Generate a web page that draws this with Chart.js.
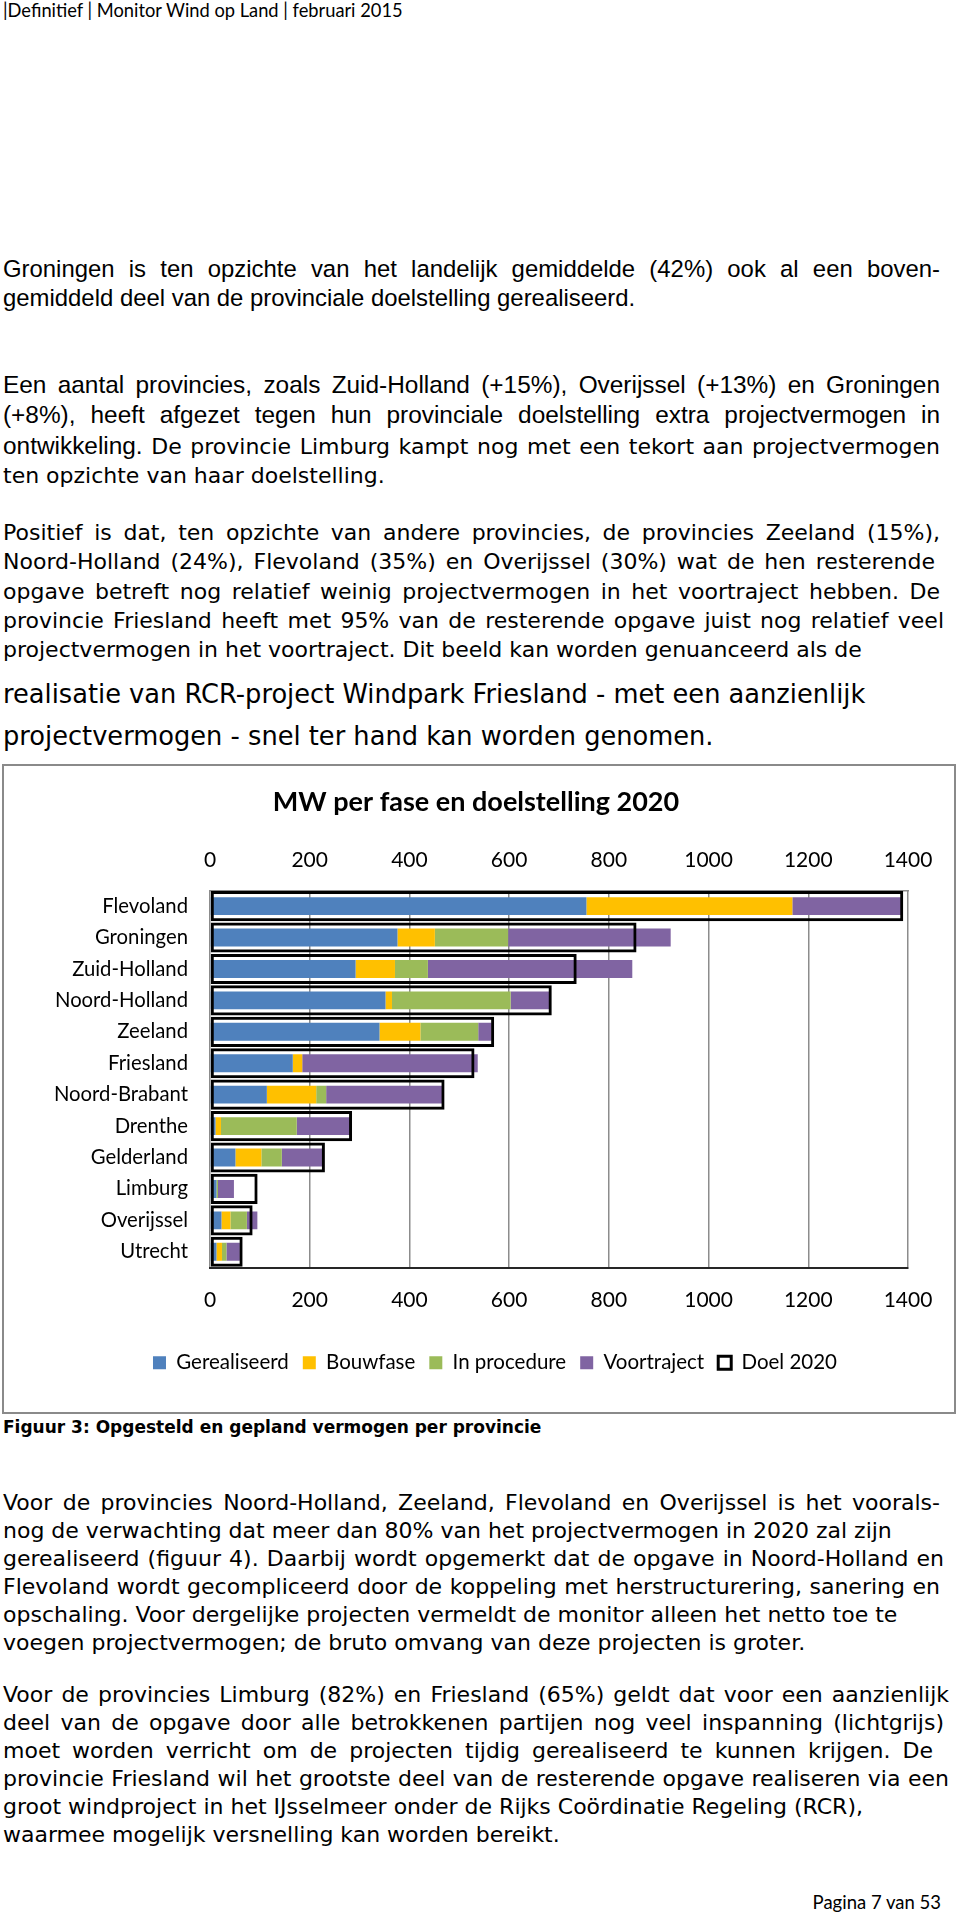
<!DOCTYPE html>
<html>
<head>
<meta charset="utf-8">
<script src="https://cdn.jsdelivr.net/npm/chart.js@4.4.1/dist/chart.umd.min.js"></script>
<style>
  body { margin: 0; width: 960px; height: 1915px; position: relative; background: #fff; color: #000; overflow: hidden; }
  .p { position: absolute; left: 3px; font-family: "DejaVu Sans", Verdana, sans-serif; font-size: 22px; line-height: 29.3px; }
  .p2 { line-height: 28px; }
  .ln { display: block; width: max-content; white-space: nowrap; }
  .ar { font-family: "Liberation Sans", Arial, sans-serif; font-size: 24.4px; }
  .big { font-size: 25.7px; line-height: 30px; }
  .cap { position: absolute; left: 3px; top: 1417px; font-family: "DejaVu Sans", Verdana, sans-serif; font-weight: bold; font-size: 17px; line-height: 20px; white-space: nowrap; }
  .head { position: absolute; left: 3px; top: 0; font-family: Lato, sans-serif; font-size: 18.3px; line-height: 20px; white-space: nowrap; }
  .foot { position: absolute; right: 19px; top: 1892px; font-family: Lato, sans-serif; font-size: 18.5px; line-height: 20px; white-space: nowrap; }
  #box { position: absolute; left: 2px; top: 764px; width: 954px; height: 650px; border: 2px solid #8a8a8a; box-sizing: border-box; }
  #box canvas { position: absolute; left: 0; top: 0; }
</style>
</head>
<body>
<div class="head">|Definitief | Monitor Wind op Land | februari 2015</div>

<div class="p ar" style="top:254px;line-height:29.3px;font-size:23.9px">
<div class="ln" data-w="937">Groningen is ten opzichte van het landelijk gemiddelde (42%) ook al een boven-</div>
<div class="ln">gemiddeld deel van de provinciale doelstelling gerealiseerd.</div>
</div>

<div class="p" style="top:370px">
<div class="ln" data-w="937"><span class="ar">Een aantal provincies, zoals Zuid-Holland (+15%), Overijssel (+13%) en Groningen</span></div>
<div class="ln" data-w="937"><span class="ar">(+8%), heeft afgezet tegen hun provinciale doelstelling extra projectvermogen in</span></div>
<div class="ln" data-w="937"><span class="ar">ontwikkeling.</span> De provincie Limburg kampt nog met een tekort aan projectvermogen</div>
<div class="ln">ten opzichte van haar doelstelling.</div>
</div>

<div class="p" style="top:518px">
<div class="ln" data-w="937">Positief is dat, ten opzichte van andere provincies, de provincies Zeeland (15%),</div>
<div class="ln" data-w="932">Noord-Holland (24%), Flevoland (35%) en Overijssel (30%) wat de hen resterende</div>
<div class="ln" data-w="937">opgave betreft nog relatief weinig projectvermogen in het voortraject hebben. De</div>
<div class="ln" data-w="941">provincie Friesland heeft met 95% van de resterende opgave juist nog relatief veel</div>
<div class="ln">projectvermogen in het voortraject. Dit beeld kan worden genuanceerd als de</div>
</div>
<div class="p big" style="top:679px"><div class="ln">realisatie van RCR-project Windpark Friesland - met een aanzienlijk</div></div>
<div class="p big" style="top:721px"><div class="ln">projectvermogen - snel ter hand kan worden genomen.</div></div>

<div id="box"><canvas id="chart" width="950" height="646"></canvas></div>

<div class="cap">Figuur 3: Opgesteld en gepland vermogen per provincie</div>

<div class="p p2" style="top:1489px">
<div class="ln" data-w="937">Voor de provincies Noord-Holland, Zeeland, Flevoland en Overijssel is het voorals-</div>
<div class="ln">nog de verwachting dat meer dan 80% van het projectvermogen in 2020 zal zijn</div>
<div class="ln" data-w="941">gerealiseerd (figuur 4). Daarbij wordt opgemerkt dat de opgave in Noord-Holland en</div>
<div class="ln" data-w="937">Flevoland wordt gecompliceerd door de koppeling met herstructurering, sanering en</div>
<div class="ln">opschaling. Voor dergelijke projecten vermeldt de monitor alleen het netto toe te</div>
<div class="ln">voegen projectvermogen; de bruto omvang van deze projecten is groter.</div>
</div>

<div class="p p2" style="top:1681px">
<div class="ln" data-w="946">Voor de provincies Limburg (82%) en Friesland (65%) geldt dat voor een aanzienlijk</div>
<div class="ln" data-w="941">deel van de opgave door alle betrokkenen partijen nog veel inspanning (lichtgrijs)</div>
<div class="ln" data-w="930">moet worden verricht om de projecten tijdig gerealiseerd te kunnen krijgen. De</div>
<div class="ln" data-w="946">provincie Friesland wil het grootste deel van de resterende opgave realiseren via een</div>
<div class="ln">groot windproject in het IJsselmeer onder de Rijks Co&ouml;rdinatie Regeling (RCR),</div>
<div class="ln">waarmee mogelijk versnelling kan worden bereikt.</div>
</div>

<div class="foot">Pagina 7 van 53</div>

<script>
// MW per provincie
var provincies = ['Flevoland', 'Groningen', 'Zuid-Holland', 'Noord-Holland', 'Zeeland', 'Friesland',
  'Noord-Brabant', 'Drenthe', 'Gelderland', 'Limburg', 'Overijssel', 'Utrecht'];
var gerealiseerd = [755, 376, 292, 352, 340, 166, 114, 11, 51, 13, 23, 13];
var bouwfase     = [413, 75, 79, 13, 82, 19, 99, 11, 52, 0, 18, 11];
var inProcedure  = [0, 147, 66, 238, 116, 0, 20, 152, 41, 3, 33, 9];
var voortraject  = [219, 326, 410, 79, 27, 352, 233, 109, 82, 32, 21, 27];
var doel2020     = [1390.5, 855.5, 735.5, 685.5, 570, 530.5, 470.5, 285, 230.5, 95.5, 85.5, 65.5];
var ticksMW      = [0, 200, 400, 600, 800, 1000, 1200, 1400];

// uitgevulde regels: spaties oprekken tot de regelbreedte
document.querySelectorAll('[data-w]').forEach(function (el) {
  var natural = el.getBoundingClientRect().width;
  var spaces = (el.textContent.match(/ /g) || []).length;
  if (spaces) el.style.wordSpacing = ((+el.dataset.w - natural) / spaces) + 'px';
});

Chart.defaults.font.family = 'Lato, sans-serif';
Chart.defaults.color = '#000';

function fase(label, data, color) {
  return {
    label: label, data: data, backgroundColor: color, borderWidth: 0,
    stack: 'fase', grouped: false, order: 1,
    barPercentage: 0.57, categoryPercentage: 1
  };
}

function mwTicks(s) {
  s.ticks = ticksMW.map(function (v) { return { value: v }; });
}

var gridGrey = '#8c8c8c';

// legenda iets naar rechts, zoals in Excel
var legendShift = {
  id: 'legendShift',
  afterLayout: function (chart) {
    chart.legend.left += 19;
    chart.legend.right += 19;
  }
};

new Chart(document.getElementById('chart').getContext('2d'), {
  type: 'bar',
  data: {
    labels: provincies,
    datasets: [
      fase('Gerealiseerd', gerealiseerd, '#4F81BD'),
      fase('Bouwfase', bouwfase, '#FFC000'),
      fase('In procedure', inProcedure, '#9BBB59'),
      fase('Voortraject', voortraject, '#8064A2'),
      {
        label: 'Doel 2020', data: doel2020,
        backgroundColor: 'rgba(0,0,0,0)', borderColor: '#000', borderWidth: 3,
        borderSkipped: false, stack: 'doel', grouped: false, order: 0,
        barPercentage: 0.96, categoryPercentage: 1
      }
    ]
  },
  options: {
    indexAxis: 'y',
    responsive: false,
    devicePixelRatio: 1,
    animation: false,
    layout: { padding: { left: 40, right: 46, top: 0, bottom: 29 } },
    scales: {
      x: {
        type: 'linear', position: 'bottom', stacked: true,
        min: 0, max: 1400,
        afterBuildTicks: mwTicks,
        afterFit: function (s) { s.height = 71; },
        grid: { color: gridGrey, lineWidth: 1.5, drawTicks: false },
        border: { color: '#262626', width: 2 },
        ticks: { font: { size: 21 }, padding: 20, maxRotation: 0, callback: function (v) { return String(v); } }
      },
      x2: {
        type: 'linear', position: 'top',
        min: 0, max: 1400,
        afterBuildTicks: mwTicks,
        afterFit: function (s) { s.height = 72; },
        grid: { display: false, drawTicks: false },
        border: { color: gridGrey, width: 1.5 },
        ticks: { font: { size: 21 }, padding: 18, maxRotation: 0, callback: function (v) { return String(v); } }
      },
      y: {
        stacked: true,
        afterFit: function (s) { s.width = 166; },
        grid: { display: false, drawTicks: false },
        border: { display: false },
        ticks: { font: { size: 20.3 }, padding: 22 }
      }
    },
    plugins: {
      title: {
        display: true,
        text: 'MW per fase en doelstelling 2020',
        font: { size: 27, weight: 'bold' },
        padding: { top: 20, bottom: 0 }
      },
      legend: {
        position: 'bottom',
        labels: {
          boxWidth: 13, boxHeight: 13, padding: 14,
          font: { size: 20.5 },
          sort: function (a, b) { return a.datasetIndex - b.datasetIndex; }
        }
      },
      tooltip: { enabled: false }
    }
  },
  plugins: [legendShift]
});
</script>
</body>
</html>
